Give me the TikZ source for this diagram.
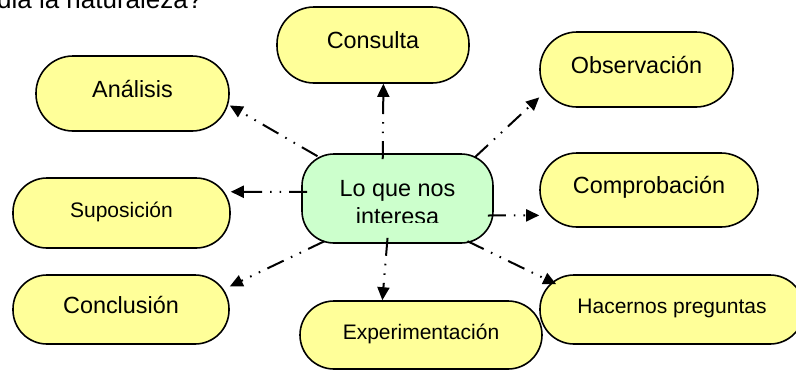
\documentclass[tikz,border=0pt]{standalone}
\usepackage{fontspec}
\setmainfont{Liberation Sans}
\usetikzlibrary{arrows.meta,calc,positioning}

\definecolor{amarillo}{RGB}{255,255,153}
\definecolor{verdeclaro}{RGB}{204,255,204}

\begin{document}
\begin{tikzpicture}[x=0.5pt, y=-0.5pt, >={Triangle[length=6.5pt,width=6pt]}, semithick,
    caja/.style={draw, line width=0.8pt, fill=amarillo, rounded corners=17pt, inner sep=0pt},
    alta/.style={rounded corners=18.5pt},
    grande/.style={font=\fontsize{11.7}{13.5}\selectfont, text height=7.8pt, text depth=3.9pt},
    chica/.style={font=\fontsize{10.5}{12.6}\selectfont, text height=7.5pt, text depth=3.3pt},
    centro/.style={draw, line width=0.8pt, fill=verdeclaro, rounded corners=16pt, minimum width=95.5pt, minimum height=44.5pt},
    flecha/.style={->, line width=1pt, dash pattern=on 9pt off 4pt on 0.8pt off 4pt on 0.8pt off 4pt, shorten <=-3pt}]
    \useasboundingbox (0,0) rectangle (796,370);

    \node[font=\fontsize{13}{15}\selectfont, anchor=base east, inner sep=0pt] (titulo) at (203,8) {dia la naturaleza?};

    \node[caja, alta, grande, minimum width=96pt,   minimum height=38pt]   (consulta)        at (373,45)      {Consulta};
    \node[caja, alta, grande, minimum width=96.5pt, minimum height=37.5pt] (analisis)        at (132.5,93.5)  {Análisis};
    \node[caja, alta, grande, minimum width=96.5pt, minimum height=37.5pt] (observacion)     at (636.5,69.5)  {Observación};
    \node[caja, chica,  minimum width=108.5pt, minimum height=35pt]        (suposicion)      at (121.5,213)   {Suposición};
    \node[caja, alta, grande, minimum width=109pt,  minimum height=37pt]   (comprobacion)    at (649,190)     {Comprobación};
    \node[caja, grande, minimum width=108pt,  minimum height=34.5pt]       (conclusion)      at (121,309.5)   {Conclusión};
    \node[caja, chica,  minimum width=121pt,  minimum height=34pt]         (experimentacion) at (421,335)     {Experimentación};
    \node[caja, chica,  minimum width=132pt,  minimum height=34.5pt]       (hacernos)        at (672,309.5)   {Hacernos preguntas};

    \node[centro, path picture={
            \clip (path picture bounding box.north west) rectangle ([yshift=10.5pt]path picture bounding box.south east);
            \node[grande, anchor=base] at ([yshift=0.9pt]path picture bounding box.center)    {Lo que nos};
            \node[grande, anchor=base] at ([yshift=-12.75pt]path picture bounding box.center) {interesa};
        }]                                                                   (centro)          at (397.5,198.5) {};

    \path[flecha] (centro.152)  edge (analisis.-7)
                  (centro.108)  edge (consulta.-75)
                  (centro.29)   edge (observacion.196)
                  (centro.176)  edge (suposicion.11)
                  (centro.-10)  edge (comprobacion.193)
                  (centro.210)  edge (conclusion.12)
                  (centro.257)  edge (experimentacion.138)
                  (centro.-31)  edge ($(hacernos.north west)+(17,10)$);
\end{tikzpicture}
\end{document}
